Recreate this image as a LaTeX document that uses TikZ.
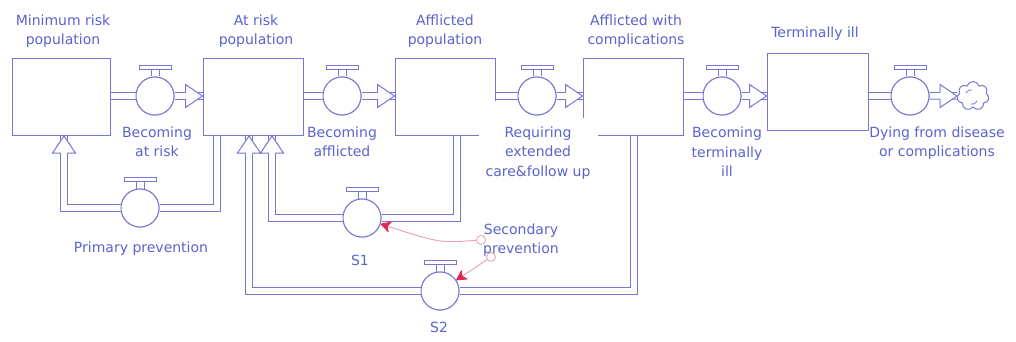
\documentclass[tikz,border=0pt]{standalone}
\usepackage{fontspec}
\setmainfont{DejaVu Sans}
\usetikzlibrary{arrows.meta,shapes.symbols,calc}
\definecolor{linecol}{RGB}{120,120,210}
\definecolor{txtcol}{RGB}{90,100,205}
\definecolor{conline}{RGB}{235,160,178}
\definecolor{conhead}{RGB}{222,40,90}
\begin{document}
\begin{tikzpicture}[x=1pt,y=-1pt,
  stock/.style={draw=linecol, line width=1pt, rectangle, inner sep=0pt},
  valve/.style={draw=linecol, line width=1pt, circle, fill=white, minimum size=38pt, inner sep=0pt},
  pipe/.style={draw=linecol, line width=1pt, double=white, double distance=5.5pt, line join=miter},
  lab/.style={text=txtcol, font=\fontsize{14}{19.5}\selectfont, align=center, inner sep=1pt},
  conn/.style={draw=conline, line width=0.9pt},
  srcpt/.style={circle, draw=conline, line width=0.8pt, fill=white, minimum size=9pt, inner sep=0pt},
  chead/.style={-{Stealth[length=11pt,width=12pt,inset=3pt,round,color=conhead,fill=conhead]}},
  fhead/.pic={\draw[linecol, line width=1pt, fill=white, line join=miter]
     (-17,-3.25) -- (-17,-11.5) -- (0,0) -- (-17,11.5) -- (-17,3.25);},
  vtop/.pic={\draw[linecol, line width=0.9pt] (-4,0) -- (-4,-7) (4,0) -- (4,-7);
     \draw[linecol, line width=0.9pt, fill=white] (-16,-7) rectangle (16,-11);}
]
\useasboundingbox (0,0) rectangle (1016,342);
\fill[white] (0,0) rectangle (1016,342);

% stocks
\node[stock, minimum width=98pt, minimum height=77pt] (minrisk) at (61,97) {};
\node[stock, minimum width=100pt, minimum height=77pt] (atrisk) at (253,97) {};
\node[stock, minimum width=100pt, minimum height=77pt] (afflicted) at (445,97) {};
\node[stock, minimum width=100pt, minimum height=77pt] (complic) at (633,97) {};
\node[stock, minimum width=101pt, minimum height=76pt] (terminal) at (817.5,92) {};

% masks behind the long flow label
\fill[white] (479,101) rectangle (498,138);
\fill[white] (580,118) rectangle (598,138);

% valves
\node[valve] (v1) at (155,96) {};
\node[valve] (v2) at (342,96) {};
\node[valve] (v3) at (537,96) {};
\node[valve] (v4) at (722,96) {};
\node[valve] (v5) at (910,96) {};
\node[valve] (v6) at (140,208) {};
\node[valve] (v7) at (362,218) {};
\node[valve] (v8) at (440,291) {};

% sink cloud
\node[cloud, cloud puffs=7, aspect=1.1, draw=linecol, line width=1pt, minimum width=32pt, minimum height=29pt, inner sep=0pt] (sink) at (973,96) {};
\draw[linecol, line width=0.8pt] ($(sink.center)+(-7,-3)$) arc[start angle=200, end angle=290, radius=5];
\draw[linecol, line width=0.8pt] ($(sink.center)+(4,5)$) arc[start angle=20, end angle=110, radius=5];

% corners of the loops
\coordinate (p1) at (217,208);
\coordinate (p2) at (64,208);
\coordinate (s1a) at (457,218);
\coordinate (s1b) at (272,218);
\coordinate (s2a) at (634,291);
\coordinate (s2b) at (249,291);

% main pipes
\draw[pipe] (minrisk.east |- v1) -- (v1.west);
\draw[pipe] (v1.east) -- (atrisk.west |- v1);
\draw[pipe] (atrisk.east |- v2) -- (v2.west);
\draw[pipe] (v2.east) -- (afflicted.west |- v2);
\draw[pipe] (afflicted.east |- v3) -- (v3.west);
\draw[pipe] (v3.east) -- (complic.west |- v3);
\draw[pipe] (complic.east |- v4) -- (v4.west);
\draw[pipe] (v4.east) -- (terminal.west |- v4);
\draw[pipe] (terminal.east |- v5) -- (v5.west);
\draw[pipe] (v5.east) -- (sink.west);
% loops
\draw[pipe] (atrisk.south -| p1) -- (p1) -- (v6.east);
\draw[pipe] (v6.west) -- (p2) -- (minrisk.south -| p2);
\draw[pipe] (afflicted.south -| s1a) -- (s1a) -- (v7.east);
\draw[pipe] (v7.west) -- (s1b) -- (atrisk.south -| s1b);
\draw[pipe] (complic.south -| s2a) -- (s2a) -- (v8.east);
\draw[pipe] (v8.west) -- (s2b) -- (atrisk.south -| s2b);

% valves on top of pipes
\foreach \v in {v1,v2,v3,v4,v5,v6,v7,v8} {
  \draw[linecol, line width=1pt, fill=white] (\v) circle (19);
  \pic at (\v.north) {vtop};
}

% flow heads
\pic at (atrisk.west |- v1) {fhead};
\pic at (afflicted.west |- v2) {fhead};
\pic at (complic.west |- v3) {fhead};
\pic at (terminal.west |- v4) {fhead};
\pic at (sink.west) {fhead};
\pic[rotate=90] at (minrisk.south -| p2) {fhead};
\pic[rotate=90] at (atrisk.south -| s2b) {fhead};
\pic[rotate=90] at (atrisk.south -| s1b) {fhead};

% labels
\node[lab] (lminrisk) at (63,31) {Minimum risk\\population};
\node[lab] (latrisk) at (256,31) {At risk\\population};
\node[lab] (lafflicted) at (445,31) {Afflicted\\population};
\node[lab] (lcomplic) at (636,31) {Afflicted with\\complications};
\node[lab] (lterminal) at (815,34) {Terminally ill};
\node[lab] (lv1) at (157,142) {Becoming\\at risk};
\node[lab] (lv2) at (342,142) {Becoming\\afflicted};
\node[lab] (lv3) at (538,153) {Requiring\\extended\\care\&follow up};
\node[lab] (lv4) at (727,152) {Becoming\\terminally\\ill};
\node[lab] (lv5) at (937,143) {Dying from disease\\or complications};
\node[lab] (lv6) at (141,249) {Primary prevention};
\node[lab] (lv7) at (360,260) {S1};
\node[lab] (lv8) at (439,327) {S2};
\node[lab] (lsec) at (521,240) {Secondary\\prevention};

% connectors from secondary prevention
\node[srcpt] (sp1) at (481,240) {};
\node[srcpt] (sp2) at (491,257) {};
\draw[conn, chead] (sp1) .. controls (440,243) .. (v7);
\draw[conn, chead] (sp2) -- (v8);
\end{tikzpicture}
\end{document}
